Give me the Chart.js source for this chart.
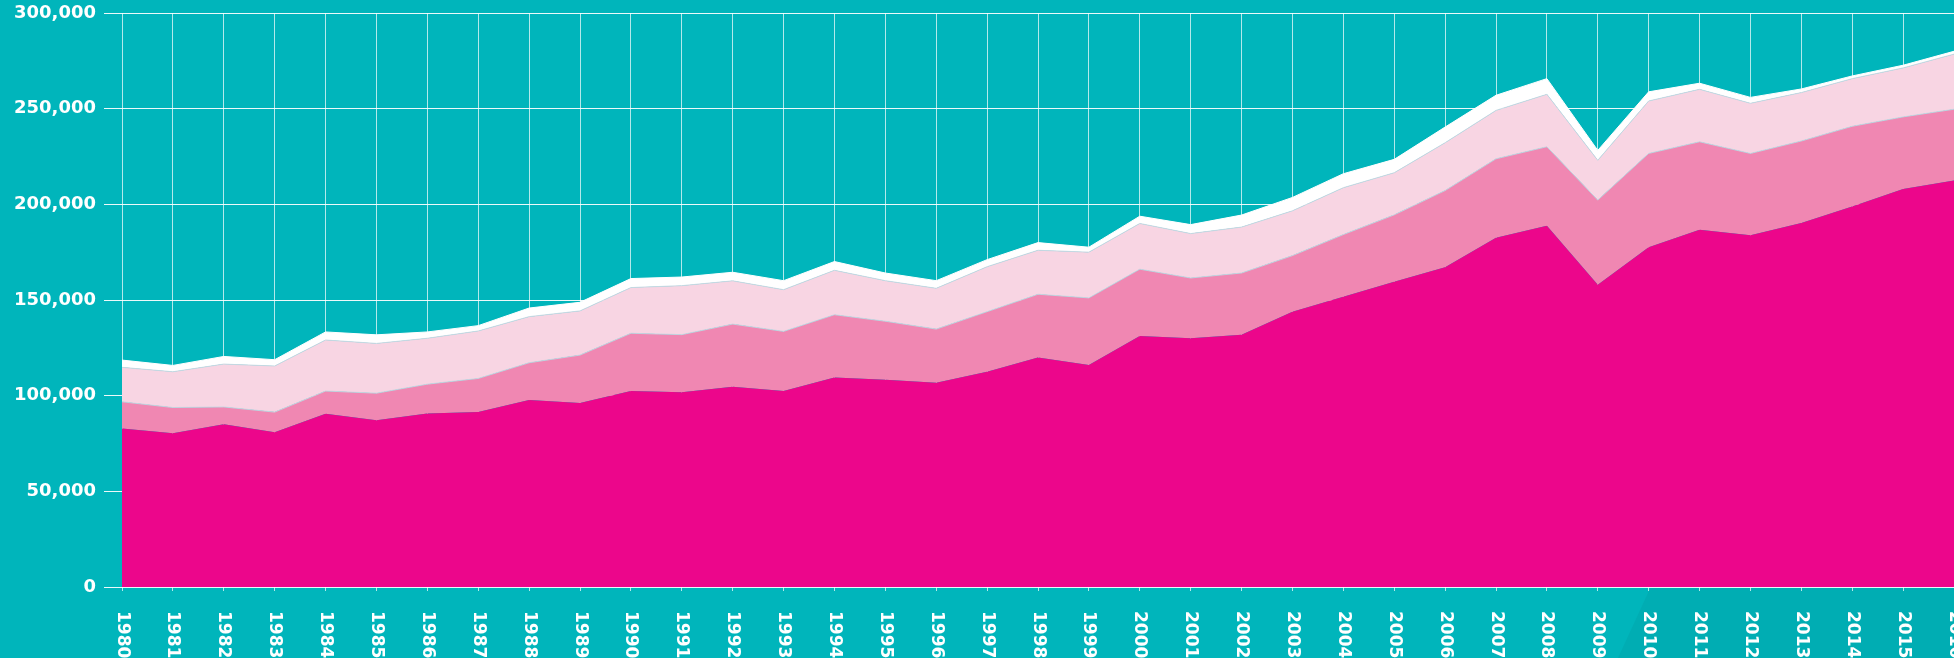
<!DOCTYPE html>
<html>
<head>
<meta charset="utf-8">
<script src="https://cdn.jsdelivr.net/npm/chart.js@4"></script>
<style>
  html, body { margin: 0; padding: 0; overflow: hidden; background: #00b5bb; }
  canvas { display: block; }
</style>
</head>
<body>
<canvas id="myChart" width="1954" height="658"></canvas>
<script>
// years on the x axis
const years = ['1980','1981','1982','1983','1984','1985','1986','1987','1988','1989',
  '1990','1991','1992','1993','1994','1995','1996','1997','1998','1999',
  '2000','2001','2002','2003','2004','2005','2006','2007','2008','2009',
  '2010','2011','2012','2013','2014','2015','2016'];

// stacked layers, bottom to top
const layer1 = [82800, 80400, 85100, 80900, 90500, 87200, 90700, 91400, 97700, 96200,
  102400, 101800, 104600, 102500, 109500, 108300, 106700, 112500, 120000, 116000,
  131200, 130000, 131800, 143900, 151700, 159600, 167100, 182500, 188800, 158000,
  177600, 186700, 183900, 190300, 198900, 208000, 212500];
const layer2 = [14000, 13400, 9000, 10500, 11900, 14100, 15300, 17600, 19500, 25000,
  30200, 30100, 32800, 31100, 32800, 30600, 28100, 31400, 33000, 35100,
  34900, 31500, 32300, 29300, 32500, 34900, 40100, 41300, 41300, 44200,
  49000, 46000, 42700, 42800, 41900, 37700, 37200];
const layer3 = [18000, 18700, 22400, 24100, 26700, 26000, 24000, 24800, 24100, 23100,
  23900, 25600, 22600, 21800, 23200, 21200, 21300, 23500, 23000, 23900,
  23900, 23200, 24000, 23400, 24500, 22000, 25000, 25300, 27400, 20800,
  27400, 27400, 26200, 25300, 24900, 25600, 28800];
const layer4 = [3800, 3300, 4000, 3300, 4200, 4500, 3300, 2800, 4500, 4500,
  4700, 4500, 4500, 4700, 4600, 4000, 4000, 3700, 4000, 2600,
  3800, 4700, 6300, 7000, 7300, 7000, 8200, 7900, 8200, 5200,
  4800, 3200, 3100, 1900, 1400, 1400, 1500];

const yTicks = [0, 50000, 100000, 150000, 200000, 250000, 300000];

const TEAL = '#00b5bb';
const FONT = 'DejaVu Sans';

// teal background plus the slightly darker corner bottom right
const bgPlugin = {
  id: 'bg',
  beforeDraw(chart) {
    const ctx = chart.ctx;
    ctx.save();
    ctx.fillStyle = TEAL;
    ctx.fillRect(0, 0, chart.width, chart.height);
    ctx.fillStyle = '#00adb3';
    ctx.beginPath();
    ctx.moveTo(1700, 480);
    ctx.lineTo(1618, chart.height);
    ctx.lineTo(chart.width, chart.height);
    ctx.lineTo(chart.width, 480);
    ctx.closePath();
    ctx.fill();
    ctx.restore();
  }
};

// year labels turned 90deg clockwise, reading downwards
const yearLabels = {
  id: 'yearLabels',
  afterDraw(chart) {
    const ctx = chart.ctx;
    const xs = chart.scales.x;
    ctx.save();
    ctx.fillStyle = '#ffffff';
    ctx.font = 'bold 17px "' + FONT + '"';
    ctx.textAlign = 'left';
    ctx.textBaseline = 'middle';
    xs.ticks.forEach((t, i) => {
      const x = xs.getPixelForTick(i);
      ctx.save();
      ctx.translate(x, 611);
      ctx.rotate(Math.PI / 2);
      ctx.fillText(xs.getLabelForValue(t.value), 0, 0);
      ctx.restore();
    });
    ctx.restore();
  }
};

const edge = 'rgba(196,216,226,0.9)';

const myChart = new Chart(document.getElementById('myChart'), {
  type: 'line',
  data: {
    labels: years,
    datasets: [
      { data: layer1, backgroundColor: '#ec068b', borderWidth: 0, fill: 'origin' },
      { data: layer2, backgroundColor: '#f087b2', borderColor: edge, borderWidth: 1, fill: '-1' },
      { data: layer3, backgroundColor: '#f8d5e3', borderColor: edge, borderWidth: 1, fill: '-1' },
      { data: layer4, backgroundColor: '#ffffff', borderColor: '#ffffff', borderWidth: 1, fill: '-1' }
    ]
  },
  options: {
    responsive: false,
    animation: false,
    devicePixelRatio: 1,
    layout: { padding: { top: 13, left: 0, right: 0, bottom: 0 } },
    elements: { point: { radius: 0 }, line: { tension: 0 } },
    plugins: { legend: { display: false }, tooltip: { enabled: false } },
    scales: {
      x: {
        offset: false,
        border: { display: false },
        grid: { color: 'rgba(255,255,255,0.7)', lineWidth: 1, drawTicks: true, tickLength: 4 },
        ticks: { display: false, autoSkip: false },
        afterFit(scale) {
          scale.height = 71;
          scale.paddingLeft = 0;
          scale.paddingRight = 0;
        }
      },
      y: {
        stacked: true,
        min: 0,
        max: 300000,
        border: { display: false },
        grid: { color: 'rgba(255,255,255,0.92)', lineWidth: 1, tickLength: 18 },
        afterBuildTicks(scale) {
          scale.ticks = yTicks.map(v => ({ value: v }));
        },
        ticks: {
          color: '#ffffff',
          padding: 8,
          font: { family: FONT, size: 18, weight: 'bold' },
          callback: v => v.toLocaleString('en-US')
        },
        afterFit(scale) {
          scale.width = 122;
          scale.paddingTop = 0;
          scale.paddingBottom = 0;
        }
      }
    }
  },
  plugins: [bgPlugin, yearLabels]
});
</script>
</body>
</html>
